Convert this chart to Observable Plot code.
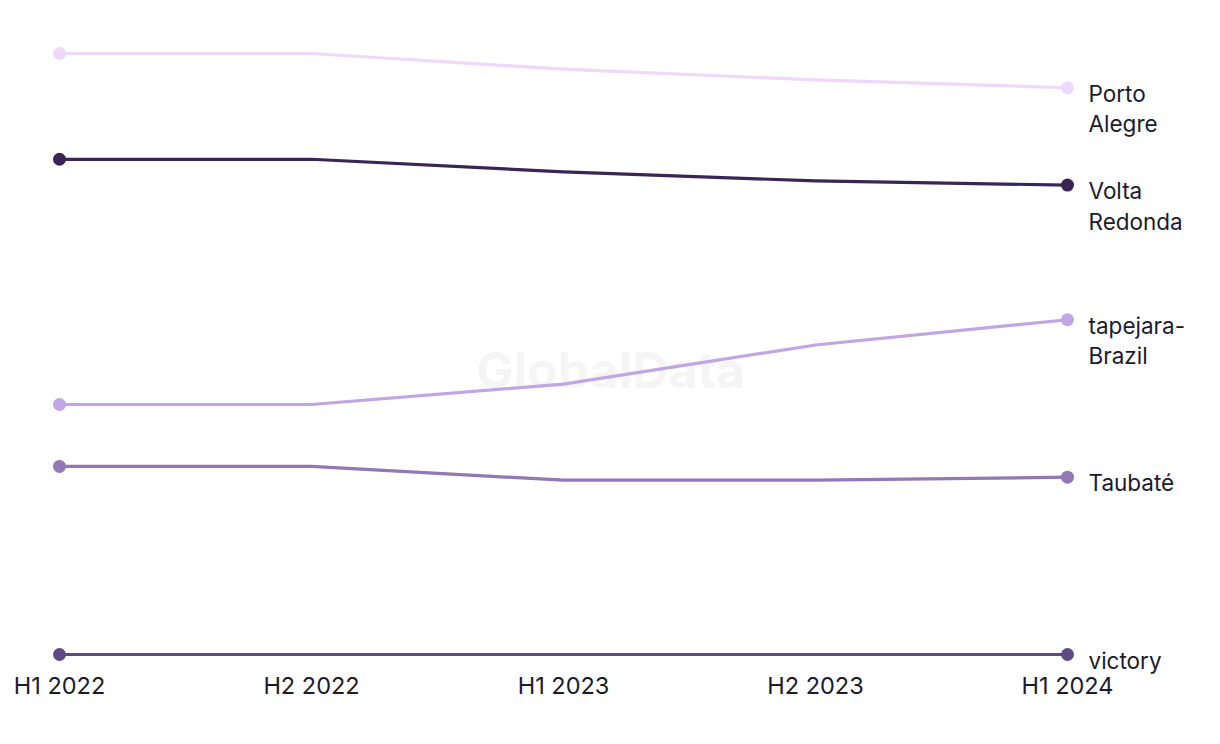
<!DOCTYPE html>
<html>
<head>
<meta charset="utf-8">
<script src="https://cdn.jsdelivr.net/npm/d3@7"></script>
<script src="https://cdn.jsdelivr.net/npm/@observablehq/plot@0.6"></script>
<style>
  html, body { margin: 0; padding: 0; background: #ffffff; }
  #chart { width: 1220px; height: 744px; }
  svg { font-family: Inter, "Noto Sans", sans-serif; }
</style>
</head>
<body>
<div id="chart"></div>
<script>
const periods = ["H1 2022", "H2 2022", "H1 2023", "H2 2023", "H1 2024"];
const cities = ["Porto Alegre", "Volta Redonda", "tapejara-Brazil", "Taubaté", "victory"];
const cityLabels = ["Porto\nAlegre", "Volta\nRedonda", "tapejara-\nBrazil", "Taubaté", "victory"];
const portoAlegre = [100, 100, 97.4, 95.6, 94.3];
const voltaRedonda = [82.4, 82.4, 80.3, 78.8, 78.1];
const tapejaraBrazil = [41.6, 41.6, 45.0, 51.5, 55.7];
const taubate = [31.3, 31.3, 29.0, 29.0, 29.5];
const victory = [0, 0, 0, 0, 0];
const colors = ["#f0d8fc", "#3a2556", "#c1a5e4", "#9278b4", "#5f4a86"];

const seriesValues = [portoAlegre, voltaRedonda, tapejaraBrazil, taubate, victory];
const rows = [];
cities.forEach((c, i) => {
  periods.forEach((p, j) => rows.push({city: c, period: p, value: seriesValues[i][j]}));
});
const last = rows.filter(d => d.period === periods[periods.length - 1])
  .map(d => ({...d, label: cityLabels[cities.indexOf(d.city)]}));

const chart = Plot.plot({
  width: 1220,
  height: 744,
  marginTop: 53,
  marginBottom: 90,
  marginLeft: 58,
  marginRight: 152,
  x: {type: "point", domain: periods, padding: 0, label: null},
  y: {domain: [0, 100], axis: null},
  color: {domain: cities, range: colors},
  style: {fontFamily: "Inter, 'Noto Sans', sans-serif", background: "#ffffff"},
  marks: [
    Plot.text(["GlobalData"], {frameAnchor: "middle", dx: 47, dy: 18, fontSize: 50, fontWeight: "bold", fill: "#f5f5f5"}),
    Plot.axisX({tickSize: 0, tickPadding: 23, fontSize: 23.5, fill: "#1b1a2e", label: null}),
    Plot.line(rows, {x: "period", y: "value", z: "city", stroke: "city", strokeWidth: 3.2, curve: "linear"}),
    Plot.dot(rows.filter(d => d.period === periods[0] || d.period === periods[periods.length - 1]),
      {x: "period", y: "value", fill: "city", r: 6.5}),
    Plot.text(last, {x: "period", y: "value", text: "label", textAnchor: "start", lineAnchor: "top",
      dx: 21, dy: -7.5, fontSize: 22.5, lineHeight: 1.35, fill: "#1b1a2e"})
  ]
});
document.getElementById("chart").appendChild(chart);
</script>
</body>
</html>
